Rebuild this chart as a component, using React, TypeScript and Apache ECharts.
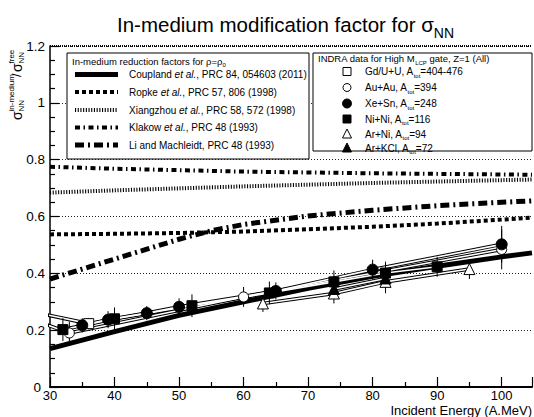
import React, { useEffect, useRef } from 'react';
import * as echarts from 'echarts';

const FONT = '"Liberation Sans", Arial, Helvetica, sans-serif';

// ---------- theory curves ----------
const theoryE = [30, 40, 50, 60, 70, 80, 90, 100, 104.7];
const couplandV = [0.135, 0.195, 0.252, 0.3, 0.347, 0.39, 0.425, 0.458, 0.472];
const ropkeV = [0.537, 0.539, 0.542, 0.547, 0.555, 0.564, 0.575, 0.589, 0.596];
const xiangzhouV = [0.684, 0.692, 0.699, 0.706, 0.712, 0.718, 0.723, 0.728, 0.73];
const klakowV = [0.775, 0.768, 0.763, 0.758, 0.755, 0.752, 0.75, 0.748, 0.747];
const liE = [30, 35, 40, 45, 50, 55, 60, 70, 80, 90, 100, 104.7];
const liV = [0.38, 0.415, 0.45, 0.485, 0.52, 0.55, 0.572, 0.602, 0.622, 0.638, 0.65, 0.655];

// ---------- INDRA data ----------
const gduE = [27, 36];
const gduV = [0.266, 0.223];
const gduErr = [0.02, 0.02];
const auauE = [27, 33, 60, 100];
const auauV = [0.24, 0.19, 0.317, 0.484];
const auauErr = [0.03, 0.04, 0.035, 0.07];
const xesnE = [35, 39, 45, 50, 65, 80, 100];
const xesnV = [0.217, 0.237, 0.26, 0.282, 0.338, 0.413, 0.502];
const xesnErr = [0.025, 0.03, 0.025, 0.03, 0.03, 0.035, 0.065];
const niniE = [32, 40, 52, 64, 74, 82, 90];
const niniV = [0.202, 0.24, 0.286, 0.331, 0.37, 0.401, 0.423];
const niniErr = [0.04, 0.04, 0.04, 0.04, 0.04, 0.04, 0.035];
const arniE = [63, 74, 82, 95];
const arniV = [0.294, 0.329, 0.37, 0.415];
const arniErr = [0.03, 0.035, 0.04, 0.035];
const arkclE = [74, 82];
const arkclV = [0.345, 0.382];
const arkclErr = [0.03, 0.03];

const xTicks = [30, 40, 50, 60, 70, 80, 90, 100];

const theoryNames = [
  { pre: 'Coupland ', it: 'et al.', post: ', PRC 84, 054603 (2011)' },
  { pre: 'Ropke ', it: 'et al.', post: ', PRC 57, 806 (1998)' },
  { pre: 'Xiangzhou ', it: 'et al.', post: ', PRC 58, 572 (1998)' },
  { pre: 'Klakow ', it: 'et al.', post: ', PRC 48 (1993)' },
  { pre: 'Li and Machleidt, PRC 48 (1993)', it: '', post: '' },
];
const dataNames = [
  ['Gd/U+U, A', 'tot', '=404-476'],
  ['Au+Au, A', 'tot', '=394'],
  ['Xe+Sn, A', 'tot', '=248'],
  ['Ni+Ni, A', 'tot', '=116'],
  ['Ar+Ni, A', 'tot', '=94'],
  ['Ar+KCl, A', 'tot', '=72'],
];

const theoryStyles = [
  { width: 5, dash: 'solid' as any },
  { width: 4, dash: [4, 3] },
  { width: 4, dash: [1.1, 1.6] },
  { width: 4, dash: [5, 3.5, 1.5, 3.5] },
  { width: 5, dash: [9, 4, 2, 4] },
];

const zip = (e: number[], v: number[]) => e.map((x, i) => [x, v[i]]);

export default function App() {
  const ref = useRef<HTMLDivElement>(null);
  useEffect(() => {
    if (!ref.current) return;
    const chart = echarts.init(ref.current, undefined, { renderer: 'svg' });

    const theorySets = [
      zip(theoryE, couplandV),
      zip(theoryE, ropkeV),
      zip(theoryE, xiangzhouV),
      zip(theoryE, klakowV),
      zip(liE, liV),
    ];
    const series: any[] = theorySets.map((d, i) => ({
      type: 'line',
      data: d,
      symbol: 'none',
      silent: true,
      z: 2,
      lineStyle: { color: '#000', width: theoryStyles[i].width, type: theoryStyles[i].dash, cap: 'butt' },
    }));
    series[0].markLine = {
      silent: true,
      symbol: ['none', 'none'],
      label: { show: false },
      lineStyle: { color: '#000', type: [1, 1], width: 2 },
      data: [{ yAxis: 1.2 }],
    };

    const systems = [
      { e: gduE, v: gduV, err: gduErr, symbol: 'rect', fill: '#fff', size: 10 },
      { e: auauE, v: auauV, err: auauErr, symbol: 'circle', fill: '#fff', size: 10 },
      { e: xesnE, v: xesnV, err: xesnErr, symbol: 'circle', fill: '#000', size: 11 },
      { e: niniE, v: niniV, err: niniErr, symbol: 'rect', fill: '#000', size: 10 },
      { e: arniE, v: arniV, err: arniErr, symbol: 'triangle', fill: '#fff', size: 11 },
      { e: arkclE, v: arkclV, err: arkclErr, symbol: 'triangle', fill: '#000', size: 11 },
    ];
    systems.forEach((s) => {
      const d = zip(s.e, s.v);
      series.push({
        type: 'line', data: d, symbol: 'none', silent: true, z: 3,
        lineStyle: { color: '#000', width: 3.6 },
      });
      series.push({
        type: 'line', data: d, symbol: 'none', silent: true, z: 4,
        lineStyle: { color: '#fff', width: 1.6 },
      });
      series.push({
        type: 'custom',
        z: 5,
        silent: true,
        data: s.e.map((x, i) => [x, s.v[i], s.err[i]]).filter((p) => p[0] >= 30),
        encode: { x: 0, y: 1 },
        renderItem: (params: any, api: any) => {
          const x = api.value(0), y = api.value(1), er = api.value(2);
          const p1 = api.coord([x, y + er]);
          const p2 = api.coord([x, y - er]);
          return {
            type: 'line',
            shape: { x1: p1[0], y1: p1[1], x2: p2[0], y2: p2[1] },
            style: { stroke: '#000', lineWidth: 1 },
          };
        },
      });
      series.push({
        type: 'scatter',
        z: 10,
        silent: true,
        data: d.filter((p) => p[0] >= 30),
        symbol: s.symbol,
        symbolSize: s.size,
        itemStyle: { color: s.fill, borderColor: '#000', borderWidth: 1, opacity: 1 },
      });
    });

    // ---------- graphics: legends and axis names ----------
    const g: any[] = [];
    const txt = (x: number, y: number, text: string, rich: any, size = 10, align = 'left') => ({
      type: 'text',
      x, y, z: 100,
      style: {
        text, rich, fill: '#000', fontSize: size, fontFamily: FONT,
        align, textAlign: align, verticalAlign: 'middle', textVerticalAlign: 'middle',
      },
    });
    const richBase = {
      n: { fontSize: 10, fontFamily: FONT, color: '#000', verticalAlign: 'middle', lineHeight: 11 },
      i: { fontSize: 10, fontFamily: FONT, color: '#000', fontStyle: 'italic', verticalAlign: 'middle', lineHeight: 11 },
      s: { fontSize: 6, fontFamily: FONT, color: '#000', verticalAlign: 'bottom', lineHeight: 14 },
    };
    const richHead = {
      n: { ...richBase.n, fontSize: 9.5 },
      s: richBase.s,
    };
    // left box
    g.push({ type: 'rect', z: 90, shape: { x: 67, y: 53, width: 242, height: 106 }, style: { fill: '#fff', stroke: '#000', lineWidth: 1 } });
    g.push(txt(72, 61, '{n|In-medium reduction factors for ρ=ρ}{s|0}', richHead));
    const leftY = [74.5, 92, 110, 127.5, 145];
    theoryNames.forEach((t, i) => {
      const y = leftY[i];
      const st = theoryStyles[i];
      g.push({
        type: 'line', z: 100,
        shape: { x1: 75, y1: y, x2: 118, y2: y },
        style: { stroke: '#000', lineWidth: st.width, lineDash: Array.isArray(st.dash) ? st.dash : null, lineCap: 'butt' },
      });
      const text = t.it ? `{n|${t.pre}}{i|${t.it}}{n|${t.post}}` : `{n|${t.pre}}`;
      g.push(txt(129, y, text, richBase));
    });
    // right box
    g.push({ type: 'rect', z: 90, shape: { x: 313, y: 53, width: 219, height: 98 }, style: { fill: '#fff', stroke: '#000', lineWidth: 1 } });
    g.push(txt(318, 58.5, '{n|INDRA data for High M}{s|LCP}{n| gate, Z=1 (All)}', richHead));
    const rightY = [71.5, 87.5, 103.5, 119, 134, 148];
    const mx = 347;
    rightY.forEach((y, i) => {
      const [a, b, c] = dataNames[i];
      g.push(txt(365, y, `{n|${a}}{s|${b}}{n|${c}}`, richBase));
    });
    const ms = { stroke: '#000', lineWidth: 1 };
    g.push({ type: 'rect', z: 100, shape: { x: mx - 4, y: rightY[0] - 4, width: 8, height: 8 }, style: { ...ms, fill: '#fff' } });
    g.push({ type: 'circle', z: 100, shape: { cx: mx, cy: rightY[1], r: 4 }, style: { ...ms, fill: '#fff' } });
    g.push({ type: 'circle', z: 100, shape: { cx: mx, cy: rightY[2], r: 4.5 }, style: { ...ms, fill: '#000' } });
    g.push({ type: 'rect', z: 100, shape: { x: mx - 4, y: rightY[3] - 4, width: 8, height: 8 }, style: { ...ms, fill: '#000' } });
    g.push({ type: 'polygon', z: 100, shape: { points: [[mx, rightY[4] - 5], [mx + 4.5, rightY[4] + 4], [mx - 4.5, rightY[4] + 4]] }, style: { ...ms, fill: '#fff' } });
    g.push({ type: 'polygon', z: 100, shape: { points: [[mx, rightY[5] - 5], [mx + 4.5, rightY[5] + 4], [mx - 4.5, rightY[5] + 4]] }, style: { ...ms, fill: '#000' } });

    // x axis name
    g.push({
      type: 'text', x: 532, y: 410.5, z: 100,
      style: { text: 'Incident Energy (A.MeV)', fill: '#000', fontSize: 13, lineHeight: 12, fontFamily: FONT, align: 'right', textAlign: 'right', verticalAlign: 'middle', textVerticalAlign: 'middle' },
    });

    // y axis name (rotated)
    const yn = (x: number, y: number, text: string, size: number) => ({
      type: 'text', x, y,
      style: { text, fill: '#000', fontSize: size, fontFamily: FONT, align: 'left', textAlign: 'left', verticalAlign: 'middle', textVerticalAlign: 'middle' },
    });
    g.push({
      type: 'group',
      x: 16.5, y: 120,
      rotation: Math.PI / 2,
      z: 100,
      children: [
        yn(0, 0, 'σ', 14),
        yn(8.5, -5, 'in-medium', 8),
        yn(8.5, 5, 'NN', 8),
        yn(43, 0, '/', 13),
        yn(48, 0, 'σ', 14),
        yn(56.5, -5, 'free', 8),
        yn(56.5, 5, 'NN', 8),
      ],
    });

    const option: any = {
      animation: false,
      backgroundColor: '#fff',
      textStyle: { fontFamily: FONT },
      title: {
        text: '{t|In-medium modification factor for σ}{s|NN}',
        left: 112,
        top: 4,
        textStyle: {
          fontWeight: 'normal',
          rich: {
            t: { fontSize: 20.5, fontFamily: FONT, fontWeight: 'normal', color: '#000', verticalAlign: 'middle', lineHeight: 24 },
            s: { fontSize: 14, fontFamily: FONT, fontWeight: 'normal', color: '#000', verticalAlign: 'bottom', lineHeight: 31 },
          },
        },
      },
      grid: { left: 50, right: 2, top: 46, bottom: 30, containLabel: false, outerBoundsMode: 'none' },
      xAxis: {
        type: 'value',
        min: 30,
        max: 104.7,
        interval: 10,
        axisLine: { lineStyle: { color: '#000', width: 2 } },
        axisTick: { inside: true, length: 10, lineStyle: { color: '#000', width: 1.2 } },
        minorTick: { show: true, splitNumber: 2, length: 5, lineStyle: { color: '#000', width: 1.2 } },
        axisLabel: {
          color: '#000', fontSize: 13, lineHeight: 12, fontFamily: FONT, margin: 2,
          formatter: (v: number) => (xTicks.includes(Math.round(v * 100) / 100) ? String(v) : ''),
        },
        splitLine: { show: false },
      },
      yAxis: {
        type: 'value',
        min: 0,
        max: 1.2,
        interval: 0.2,
        axisLine: { show: true, lineStyle: { color: '#000', width: 1.5 } },
        axisTick: { inside: true, length: 9, lineStyle: { color: '#000', width: 1.2 } },
        minorTick: { show: true, splitNumber: 4, length: 5, lineStyle: { color: '#000', width: 1.2 } },
        axisLabel: {
          color: '#000', fontSize: 13.5, fontFamily: FONT, margin: 5,
          formatter: (v: number) => (v === 0 ? '{z|0}' : String(Math.round(v * 10) / 10)),
          rich: { z: { fontSize: 13.5, fontFamily: FONT, color: '#000', padding: [0, 4, 0, 0] } },
        },
        splitLine: { show: true, lineStyle: { color: '#222', width: 1, type: [1, 2] } },
      },
      graphic: g,
      series,
    };
    chart.setOption(option);
    return () => chart.dispose();
  }, []);
  return <div ref={ref} style={{ position: 'fixed', left: 0, top: 0, width: 534, height: 417, background: '#fff' }} />;
}
